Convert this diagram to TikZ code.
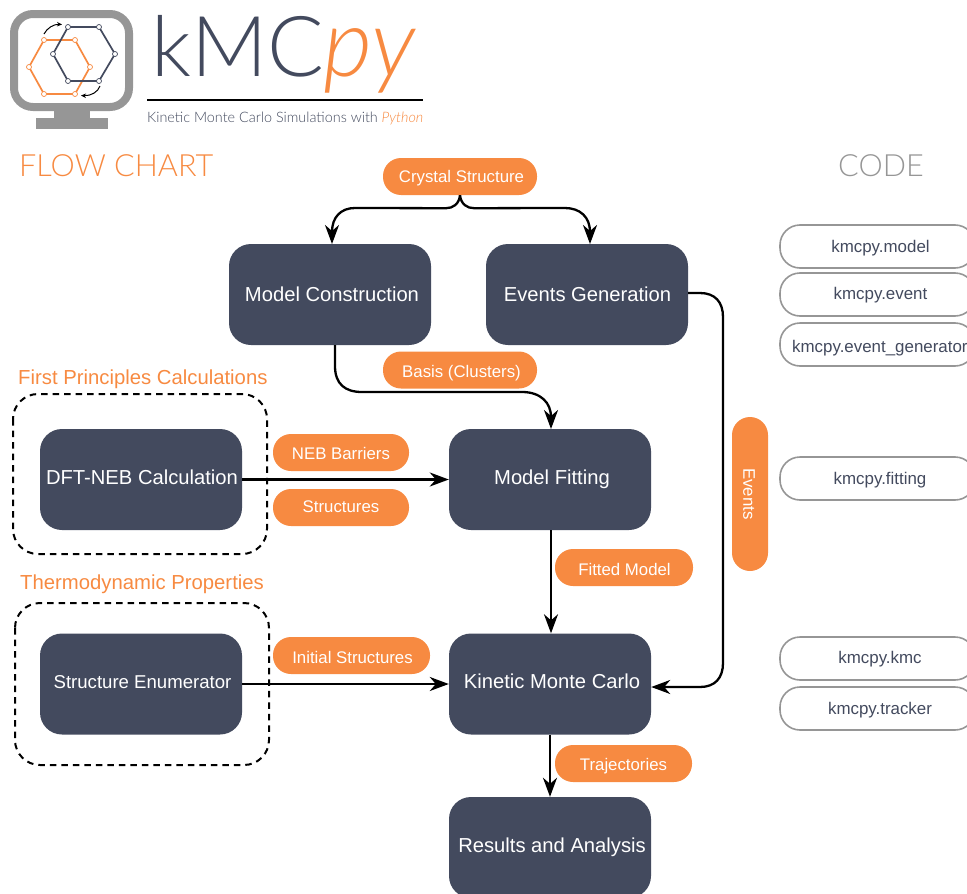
\documentclass[tikz,border=0pt]{standalone}
\usepackage{fontspec}
\usetikzlibrary{arrows.meta,calc}
\setmainfont{Liberation Sans}
\newfontfamily\thinfont{Lato Light}
\definecolor{dark}{HTML}{434A5E}
\definecolor{orng}{HTML}{F78A41}
\definecolor{gry}{HTML}{969696}
\tikzset{
 x=1pt,y=-1pt,
 block/.style={fill=dark,rounded corners=22pt,minimum width=202pt,minimum height=101pt,inner sep=0pt},
 blocktext/.style={text=white,inner sep=0pt,font=\fontsize{20.2}{24}\selectfont},
 tag/.style={fill=orng,rounded corners=18pt,minimum height=37pt,inner sep=0pt},
 tagtext/.style={text=white,inner sep=0pt,font=\fontsize{16.8}{20}\selectfont},
 code/.style={draw=gry,line width=1.6pt,fill=white,rounded corners=20pt,minimum height=43pt,minimum width=195pt,inner sep=0pt},
 codetext/.style={text=dark,font=\fontsize{16.9}{20}\selectfont},
 group/.style={draw=black,line width=2pt,dash pattern=on 6.5pt off 5pt,rounded corners=25pt},
 flow/.style={draw=black,line width=2.3pt,-{Stealth[length=19pt,width=14pt,inset=6pt]}},
 head/.style={text=orng,font=\fontsize{20.3}{24}\selectfont,inner sep=0pt},
 vo/.style={circle,draw=orng,fill=white,line width=.7pt,inner sep=0pt,minimum size=5pt},
 vd/.style={circle,draw=dark,fill=white,line width=.7pt,inner sep=0pt,minimum size=5pt},
}
\begin{document}
\begin{tikzpicture}
\useasboundingbox (0,0) rectangle (967,894);
\begin{scope}
\clip (0,0) rectangle (967,894);
% logo
\fill[gry] (54,111) rectangle (90,120);
\fill[gry] (36,118) rectangle (108,129);
\draw[gry,line width=8pt,rounded corners=19pt] (14,14) rectangle (129,107);
\coordinate (o1) at (44,40);\coordinate (o2) at (75,40);\coordinate (o3) at (90,67);\coordinate (o4) at (75,94);\coordinate (o5) at (44,94);\coordinate (o6) at (29,67);
\coordinate (d1) at (68,27);\coordinate (d2) at (99,27);\coordinate (d3) at (115,54);\coordinate (d4) at (99,81);\coordinate (d5) at (68,81);\coordinate (d6) at (53,54);
\draw[orng,line width=1.7pt] (o1)--(o2)--(o3)--(o4)--(o5)--(o6)--cycle;
\draw[dark,line width=1.7pt] (d1)--(d2)--(d3)--(d4)--(d5)--(d6)--cycle;
\foreach \i in {1,...,6}{\node[vo] at (o\i) {};\node[vd] at (d\i) {};}
\draw[black,line width=1pt,-{Stealth[length=5pt,width=4.5pt]}] (44,34) .. controls (47,28) and (54,24) .. (62,24.5);
\draw[black,line width=1pt,-{Stealth[length=5pt,width=4.5pt]}] (100,86) .. controls (98,92) and (91,96) .. (81,95.5);
% title
\node[anchor=base west,inner sep=0pt,text=dark,font=\thinfont\fontsize{84}{90}\selectfont] (kmc) at (151,76) {kMC};
\node[anchor=base west,inner sep=0pt,text=orng,font=\thinfont\itshape\fontsize{95}{100}\selectfont] (py) at (323,76) {py};
\draw[black,line width=1.5pt] (147,100) -- (423,100);
\node[anchor=base west,inner sep=0pt,text=dark,font=\thinfont\fontsize{14.4}{17}\selectfont] (sub) at (147,122) {Kinetic Monte Carlo Simulations with {\color{orng}\itshape Python}};
% headings
\node[anchor=base west,inner sep=0pt,text=orng,font=\thinfont\fontsize{30.6}{34}\selectfont] (fc) at (19,176) {FLOW CHART};
\node[anchor=base west,inner sep=0pt,text=gry,font=\thinfont\fontsize{30.6}{34}\selectfont] (cd) at (838,176) {CODE};
\node[head,anchor=base west] (fp) at (18,384) {First Principles Calculations};
\node[head,anchor=base west] (tp) at (20,589) {Thermodynamic Properties};
% groups
\draw[group] (13,394) rectangle (267,554);
\draw[group] (15,603) rectangle (269,765);
% blocks
\node[block] (mc) at (330,294.5) {};
\node[block] (eg) at (587,294.5) {};
\node[block] (dft) at (141,479.5) {};
\node[block] (mf) at (550,479.5) {};
\node[block] (se) at (141,684) {};
\node[block] (km) at (550,684) {};
\node[block] (ra) at (550,847.5) {};
\node[blocktext] (mct) at (332,294) {Model Construction};
\node[blocktext] (egt) at (587.5,294.5) {Events Generation};
\node[blocktext] (dftt) at (142,477) {DFT-NEB Calculation};
\node[blocktext] (mft) at (552,479) {Model Fitting};
\node[blocktext,font=\fontsize{18.6}{22}\selectfont] (set) at (142.5,682) {Structure Enumerator};
\node[blocktext] (kmt) at (552,681) {Kinetic Monte Carlo};
\node[blocktext] (rat) at (552,847) {Results and Analysis};
% tags
\node[tag,minimum width=154pt] (cs) at (460,176.5) {};
\node[tag,minimum width=154pt] (bc) at (460,370) {};
\node[tag,minimum width=136pt] (neb) at (341,452.5) {};
\node[tag,minimum width=136pt] (st) at (341,507.5) {};
\node[tag,minimum width=138pt] (fm) at (624,567.5) {};
\node[tag,minimum width=157pt] (is) at (351.5,655.5) {};
\node[tag,minimum width=137pt] (tj) at (623.5,763.5) {};
\node[fill=orng,rounded corners=18pt,minimum width=36pt,minimum height=154pt,inner sep=0pt] (ev) at (750,494) {};
\node[tagtext] (cst) at (461.5,178) {Crystal Structure};
\node[tagtext] (bct) at (461.5,373) {Basis (Clusters)};
\node[tagtext] (nebt) at (341,453) {NEB Barriers};
\node[tagtext] (stt) at (341,507) {Structures};
\node[tagtext] (fmt) at (624.5,569) {Fitted Model};
\node[tagtext] (ist) at (352.5,657) {Initial Structures};
\node[tagtext] (tjt) at (623.5,766) {Trajectories};
\node[tagtext,rotate=-90] (evt) at (749,494) {Events};
% code
\node[code] (c1) at (877.5,246.5) {};
\node[code] (c2) at (877.5,294.5) {};
\node[code] (c3) at (877.5,344.5) {};
\node[code] (c4) at (877.5,478.5) {};
\node[code] (c5) at (877.5,658.5) {};
\node[code] (c6) at (877.5,708.5) {};
\node[codetext] (t1) at (880.5,248) {kmcpy.model};
\node[codetext] (t2) at (880.5,295) {kmcpy.event};
\node[codetext,inner sep=0pt,anchor=west] (t3) at (792,348) {kmcpy.event\_generator};
\node[codetext] (t4) at (880,480) {kmcpy.fitting};
\node[codetext] (t5) at (880,659) {kmcpy.kmc};
\node[codetext] (t6) at (880,710) {kmcpy.tracker};
\end{scope}
% connectors
\draw[flow] (cs.south) .. controls ($(cs.south)+(-1,9)$) and ($(cs.south)+(-7,13)$) .. ($(cs.south)+(-14,13)$) -- (355,208) .. controls (341,208) and (332,217) .. (332,244);
\draw[flow] (cs.south) .. controls ($(cs.south)+(1,9)$) and ($(cs.south)+(7,13)$) .. ($(cs.south)+(14,13)$) -- (565,208) .. controls (580,208) and (590,217) .. (590,244);
\draw[flow] (335,345) -- (335,366) .. controls (335,384) and (345,392) .. (362,392) -- (522,392) .. controls (541,392) and (551,403) .. (551,429);
\draw[flow] (dft.east) -- (mf.west);
\draw[flow] ([xshift=1pt]mf.south) -- ([xshift=1pt]km.north);
\draw[flow] (se.east) -- (km.west);
\draw[flow] (km.south) -- (ra.north);
\draw[flow] (eg.east |- 0,293) -- (700,293) .. controls (715,293) and (723,302) .. (723,317) -- (723,663) .. controls (723,678) and (715,687) .. (700,687) -- (km.east |- 0,687);
\end{tikzpicture}
\end{document}
